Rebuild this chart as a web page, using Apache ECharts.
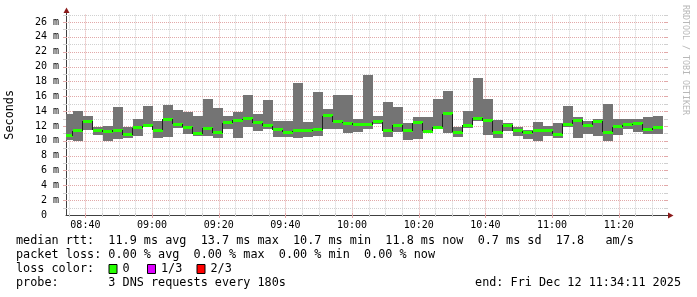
<!DOCTYPE html>
<html><head><meta charset="utf-8">
<script src="https://cdn.jsdelivr.net/npm/echarts@6/dist/echarts.min.js"></script>
<style>html,body{margin:0;padding:0;background:#fff}#c{width:697px;height:297px}</style>
</head><body><div id="c"></div>
<script>
// ---- data (ms), one value per 3-minute step, first step starts 08:33:11 ----
const firstColumnStart = 8 * 60 + 33 + 11 / 60;   // minutes since midnight
const stepMinutes = 3;
const medianRtt = [10.67,11.36,12.64,11.45,11.21,11.45,10.78,11.75,12.02,11.42,
  12.91,12.26,11.85,10.98,11.72,11.09,12.43,12.76,12.96,12.43,
  12.01,11.48,11.15,11.36,11.36,11.48,13.34,12.56,12.33,12.17,
  12.17,12.53,11.36,12.08,11.36,12.42,11.27,11.81,13.65,11.18,
  12.08,13.04,12.70,11.15,12.12,11.38,11.05,11.36,11.36,10.89,
  12.26,12.77,12.08,12.64,11.18,11.90,12.17,12.30,11.49,11.76];
const minRtt = [10.17,10.01,11.45,10.82,10.01,10.27,10.37,10.64,11.97,10.37,
  10.55,11.72,10.98,10.58,10.67,10.41,11.63,10.41,11.90,11.38,
  11.59,10.47,10.55,10.41,10.55,10.64,11.55,11.65,11.09,11.21,
  11.61,12.26,10.55,11.25,10.13,10.28,11.01,11.61,11.09,10.55,
  11.68,12.66,10.82,10.41,11.36,10.67,10.28,10.01,10.71,10.41,
  11.79,10.41,10.98,10.68,10.01,10.82,11.63,11.22,10.98,10.98];
const maxRtt = [13.61,14.01,13.34,11.85,11.99,14.55,11.92,12.96,14.68,12.70,
  14.82,14.15,13.88,13.40,15.65,14.44,13.40,13.88,16.17,13.61,
  15.49,12.69,12.69,17.81,12.53,16.57,14.28,16.17,16.17,12.93,
  18.86,13.30,15.22,14.55,12.39,13.20,13.20,15.63,16.70,11.90,
  14.01,18.46,15.63,12.80,12.39,11.88,11.45,12.53,11.95,12.39,
  14.68,13.20,12.64,12.93,14.95,12.93,12.93,12.93,13.20,13.34];
const xTickLabels = ['08:40','09:00','09:20','09:40','10:00','10:20','10:40','11:00','11:20'];
const yTickValues = [0,2,4,6,8,10,12,14,16,18,20,22,24,26];
const yTickLabels = ['0','2 m','4 m','6 m','8 m','10 m','12 m','14 m','16 m','18 m','20 m','22 m','24 m','26 m'];
const yMaxValue = 27;
const windowEnd = 11 * 60 + 34 + 11 / 60;  // 11:34:11
const windowMinutes = 180;

const legendLines = [
  'median rtt:  11.9 ms avg  13.7 ms max  10.7 ms min  11.8 ms now  0.7 ms sd  17.8   am/s',
  'packet loss: 0.00 % avg  0.00 % max  0.00 % min  0.00 % now',
  'loss color:',
  'probe:       3 DNS requests every 180s'
];
const lossLabels = ['0', '1/3', '2/3'];
const lossColors = ['#26ff00', '#dd00ff', '#ff0000'];
const endText = 'end: Fri Dec 12 11:34:11 2025';

// ---- build ----
const MONO = '"DejaVu Sans Mono", monospace';
const GRID = '#d0d0d0', MGRID = '#e2a9a9', AXIS = '#404040', ARROW = '#8b1a1a';
const toMin = s => { const p = s.split(':').map(Number); return p[0] * 60 + p[1]; };
const xTickValues = xTickLabels.map(toMin);
const axisStart = windowEnd - windowMinutes;

const columns = medianRtt.map((m, i) => [
  firstColumnStart + i * stepMinutes, firstColumnStart + (i + 1) * stepMinutes,
  minRtt[i], maxRtt[i], m, i > 0 ? medianRtt[i - 1] : m
]);

const gridData = [];
for (let t = Math.ceil(axisStart / 5) * 5; t < windowEnd; t += 5) {
  gridData.push([t, xTickValues.indexOf(t) >= 0 ? 1 : 0]);
}
for (let v = 1; v <= yMaxValue; v++) gridData.push([v, v % 2 === 0 ? 3 : 2]);

function renderGrid(params, api) {
  const cs = params.coordSys;
  const v = api.value(0), kind = api.value(1);
  const major = kind === 1 || kind === 3;
  const color = major ? MGRID : GRID;
  const ch = [];
  if (kind < 2) {
    const x = Math.round(api.coord([v, 0])[0]) + 0.5;
    const top = cs.y, bot = cs.y + cs.height;
    ch.push({type: 'line', shape: {x1: x, y1: top, x2: x, y2: bot}, style: {stroke: color, lineWidth: 1, lineDash: [1, 1]}});
    ch.push({type: 'line', shape: {x1: x, y1: bot - 2, x2: x, y2: bot + (major ? 3 : 2)}, style: {stroke: color, lineWidth: 1}});
  } else {
    const y = Math.round(api.coord([axisStart, v])[1]) + 0.5;
    const l = cs.x, r = cs.x + cs.width;
    ch.push({type: 'line', shape: {x1: l, y1: y, x2: r, y2: y}, style: {stroke: color, lineWidth: 1, lineDash: [1, 1]}});
    ch.push({type: 'line', shape: {x1: l - 3, y1: y, x2: l + 1, y2: y}, style: {stroke: color, lineWidth: 1}});
    ch.push({type: 'line', shape: {x1: r - 1, y1: y, x2: r + 2, y2: y}, style: {stroke: color, lineWidth: 1}});
  }
  return {type: 'group', children: ch};
}

function renderSmoke(params, api) {
  const cs = params.coordSys;
  const a = api.coord([api.value(0), api.value(3)]);
  const b = api.coord([api.value(1), api.value(2)]);
  const x0 = Math.max(Math.round(a[0]), cs.x), x1 = Math.min(Math.round(b[0]), cs.x + cs.width);
  const y0 = Math.round(a[1]), y1 = Math.round(b[1]);
  return {type: 'rect', shape: {x: x0, y: y0, width: x1 - x0, height: y1 - y0}, style: {fill: '#747474'}};
}

function renderMedian(params, api) {
  const cs = params.coordSys;
  const a = api.coord([api.value(0), api.value(4)]);
  const b = api.coord([api.value(1), api.value(4)]);
  const p = api.coord([api.value(0), api.value(5)]);
  const x0 = Math.max(Math.round(a[0]), cs.x), x1 = Math.round(b[0]);
  const cy = a[1];
  const ch = [];
  if (params.dataIndex > 0) {
    const vx = Math.round(a[0]) - 0.5;
    ch.push({type: 'line', shape: {x1: vx, y1: Math.round(p[1]), x2: vx, y2: Math.round(cy)}, style: {stroke: '#202020', lineWidth: 1}});
  }
  ch.push({type: 'line', shape: {x1: x0, y1: Math.round(cy) + 0.5, x2: x1, y2: Math.round(cy) + 0.5}, style: {stroke: '#202020', lineWidth: 1}});
  ch.push({type: 'rect', shape: {x: x0, y: Math.round(cy - 1.5), width: x1 - x0, height: 3}, style: {fill: lossColors[0]}});
  return {type: 'group', children: ch};
}

const chart = echarts.init(document.getElementById('c'));
const gridTop = 14.6, gridBottom = 82, gridLeft = 66, gridRight = 31;

const graphics = [];
const rowY = [241, 255, 269, 283];
legendLines.forEach((t, i) => graphics.push({type: 'text', x: 16, y: rowY[i], style: {text: t, fontFamily: MONO, fontSize: 11.8, fill: '#000', align: 'left', verticalAlign: 'middle'}}));
const boxX = [108.5, 147, 196.5];
lossLabels.forEach((t, i) => {
  graphics.push({type: 'rect', shape: {x: boxX[i] + 0.5, y: 264.5, width: 8, height: 9}, style: {fill: lossColors[i], stroke: '#000', lineWidth: 1}});
  graphics.push({type: 'text', x: boxX[i] + 14, y: rowY[2], style: {text: t, fontFamily: MONO, fontSize: 11.8, fill: '#000', align: 'left', verticalAlign: 'middle'}});
});
graphics.push({type: 'text', x: 681, y: rowY[3], style: {text: endText, fontFamily: MONO, fontSize: 11.8, fill: '#000', align: 'right', verticalAlign: 'middle'}});
graphics.push({type: 'text', x: 685.5, y: 5, rotation: -Math.PI / 2, style: {text: 'RRDTOOL / TOBI OETIKER', fontFamily: MONO, fontSize: 8.3, fill: '#b8b8b8', align: 'left', verticalAlign: 'middle'}});
// axis extensions and arrows
graphics.push({type: 'line', shape: {x1: 66.5, y1: 12, x2: 66.5, y2: 15}, style: {stroke: AXIS, lineWidth: 1}});
graphics.push({type: 'line', shape: {x1: 665, y1: 215.5, x2: 669, y2: 215.5}, style: {stroke: AXIS, lineWidth: 1}});
graphics.push({type: 'polygon', shape: {points: [[63.5, 13], [69.5, 13], [66.5, 7.5]]}, style: {fill: ARROW}});
graphics.push({type: 'polygon', shape: {points: [[668, 212.5], [668, 218.5], [673.5, 215.5]]}, style: {fill: ARROW}});

chart.setOption({
  animation: false,
  backgroundColor: '#fff',
  grid: {left: gridLeft, right: gridRight, top: gridTop, bottom: gridBottom, containLabel: false, outerBoundsMode: 'none'},
  xAxis: {
    type: 'value', min: axisStart, max: windowEnd,
    axisLine: {lineStyle: {color: AXIS, width: 1}},
    axisTick: {show: false},
    splitLine: {show: false},
    axisLabel: {customValues: xTickValues, margin: 5, fontFamily: MONO, fontSize: 10, color: '#000',
      formatter: v => xTickLabels[xTickValues.indexOf(v)] || ''}
  },
  yAxis: {
    type: 'value', min: 0, max: yMaxValue,
    name: 'Seconds', nameLocation: 'middle', nameGap: 50,
    nameTextStyle: {fontFamily: MONO, fontSize: 11.8, color: '#000'},
    axisLine: {lineStyle: {color: AXIS, width: 1}},
    axisTick: {show: false},
    splitLine: {show: false},
    axisLabel: {customValues: yTickValues, margin: 7, fontFamily: MONO, fontSize: 10, color: '#000',
      formatter: v => { const s = yTickLabels[yTickValues.indexOf(v)] || ''; return s.indexOf(' ') < 0 && s ? s + '{u| m}' : s; },
      rich: {u: {fontFamily: MONO, fontSize: 10, color: 'rgba(0,0,0,0)'}}}
  },
  graphic: graphics,
  series: [
    {type: 'custom', z: 1, silent: true, renderItem: renderGrid, data: gridData, encode: {x: 0, y: 1}},
    {type: 'custom', z: 2, silent: true, renderItem: renderSmoke, data: columns, encode: {x: [0, 1], y: [2, 3]}},
    {type: 'custom', z: 3, silent: true, renderItem: renderMedian, data: columns, encode: {x: [0, 1], y: [4, 5]}}
  ]
});
</script></body></html>
